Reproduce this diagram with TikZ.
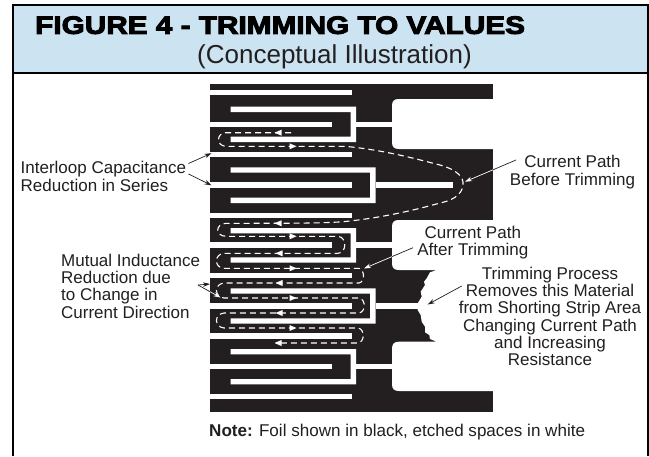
\documentclass[tikz,border=0pt]{standalone}
\usepackage{fontspec}
\setmainfont{Liberation Sans}
\newfontfamily\hdfont[FakeStretch=1.19,FakeBold=4]{Liberation Sans Bold}
\usetikzlibrary{arrows.meta}
\definecolor{foil}{HTML}{231F20}
\definecolor{hdblue}{HTML}{CCE3F2}
\tikzset{
  x=1pt,y=-1pt,
  slot/.style={fill=white},
  lbl/.style={font=\fontsize{17}{17.3}\selectfont,align=center,inner sep=0pt,text=foil},
  lblleft/.style={lbl,align=left,anchor=west},
  leader/.style={draw=foil,line width=0.7pt,-{Stealth[length=7pt,width=4.5pt]}},
  plainlead/.style={draw=foil,line width=0.7pt},
  wleader/.style={draw=white,line width=0.7pt,-{Stealth[length=7pt,width=4.5pt]}},
  cur/.style={draw=white,line width=1.1pt,dash pattern=on 6pt off 4pt},
  tri/.style={fill=white}
}
\newcommand{\trileft}[2]{\fill[tri] (#1-3.5,#2) -- (#1+3.5,#2-3) -- (#1+3.5,#2+3) -- cycle;}
\newcommand{\triright}[2]{\fill[tri] (#1+3.5,#2) -- (#1-3.5,#2-3) -- (#1-3.5,#2+3) -- cycle;}
\newcommand{\comb}[3]{\fill[slot] (230.7,#2) -- (#1,#2) -- (#1,#3+5.4) -- (230.7,#3+5.4) -- (230.7,#3) -- (#1-5.5,#3) -- (#1-5.5,#2+5.4) -- (230.7,#2+5.4) -- cycle;}
\newcommand{\slotbar}[3]{\fill[slot] (#1,#3) rectangle (#2,#3+5.4);}
\begin{document}
\begin{tikzpicture}
\useasboundingbox (0,0) rectangle (649,456);
\fill[white] (0,0) rectangle (649,456);
% header
\fill[hdblue] (13,5) rectangle (648,72.6);
\draw[line width=2pt,black] (13,456) -- (13,5) -- (648,5) -- (648,456);
\draw[line width=2pt,black] (13,72.6) -- (648,72.6);
\node[anchor=base west,inner sep=0pt,font=\hdfont\fontsize{25}{26}\selectfont] (title) at (35,33.8) {FIGURE 4 - TRIMMING TO VALUES};
\node[anchor=base,inner sep=0pt,font=\fontsize{26}{28}\selectfont,text=foil] (sub) at (334.5,63) {(Conceptual Illustration)};
% foil
\fill[foil] (210,84) rectangle (493,411.7);
% cut-outs
\fill[white] (494,99) -- (399,99) .. controls (394,99) and (392,101) .. (392,106) -- (392,142) .. controls (392,147) and (394,149) .. (399,149) -- (494,149) -- cycle;
\fill[white] (494,220) -- (399,220) .. controls (394,220) and (392,222) .. (392,227) -- (392,263) .. controls (392,268) and (394,270) .. (399,270)
  -- (436.7,270) -- (430,272.3) -- (426.7,278.3) -- (424,281.7) -- (425,285) -- (420.7,291.7) -- (421.7,296.7) -- (417.7,303.3) -- (417.7,310) -- (420.7,315) -- (421.7,321.7) -- (425,326.7) -- (425,332.3) -- (429.3,335) -- (430,339) -- (436.7,341.7)
  -- (399,341.7) .. controls (394,341.7) and (392,344) .. (392,349) -- (392,384) .. controls (392,389) and (394,391) .. (399,391) -- (494,391) -- cycle;
% slots
\slotbar{210}{351.7}{90}
\comb{356}{106.7}{136.7}
\slotbar{210}{331.7}{121.6}
\slotbar{356}{392.5}{121.6}
\slotbar{210}{351.7}{151.8}
\comb{375.7}{167.3}{197.7}
\slotbar{210}{351.7}{182.3}
\slotbar{375.7}{452.7}{182.3}
\slotbar{210}{351.7}{212.7}
\comb{356}{228}{257.3}
\slotbar{210}{331.7}{242.3}
\slotbar{356}{392.5}{242.3}
\slotbar{210}{351.7}{272.8}
\comb{375.7}{288.3}{318.3}
\slotbar{210}{351.7}{303.2}
\slotbar{375.7}{418.5}{303.2}
\slotbar{210}{351.7}{333.3}
\comb{356}{349}{379}
\slotbar{210}{331.7}{364}
\slotbar{356}{392.5}{364}
\slotbar{210}{351.7}{394}
% current path
\draw[cur] (291,132.7) -- (226,132.7) .. controls (216,133) and (216,146) .. (226,146.3) -- (345,146.3)
  .. controls (385,150) and (420,160) .. (440,165) .. controls (458,170) and (464,178) .. (463,185) .. controls (462,196) and (450,201) .. (440,203)
  .. controls (415,210) and (385,217) .. (350,221) .. controls (330,223.3) and (300,223.3) .. (226,223.3)
  .. controls (215,224) and (215,236) .. (226,236.3) -- (338,236.3) .. controls (347,237) and (347,253) .. (338,253.3) -- (224,253.3)
  .. controls (214,254) and (214,268) .. (224,268.3) -- (359,268.3) .. controls (365,270) and (365,282) .. (359,283) -- (224,283)
  .. controls (214,284) and (214,297) .. (224,298) -- (359,298) .. controls (366,299) and (366,312) .. (359,313) -- (224,313)
  .. controls (214,314) and (214,327) .. (224,328) -- (358,328) .. controls (365,329) and (365,342) .. (358,343) -- (276,343);
\trileft{278}{132.7}
\triright{293}{146.3}
\trileft{278}{223.3}
\triright{293}{236.3}
\trileft{279}{253.3}
\triright{293}{268.3}
\trileft{279}{283}
\triright{293}{298}
\trileft{279}{313}
\triright{293}{328}
\trileft{278}{343}
% labels
\node[lblleft] (inter) at (20.5,176.5) {Interloop Capacitance\\Reduction in Series};
\node[lblleft] (mutual) at (61,286) {Mutual Inductance\\Reduction due\\to Change in\\Current Direction};
\node[lbl] (before) at (572.5,172) {Current Path\\Before Trimming};
\node[lbl] (after) at (472.8,242.5) {Current Path\\After Trimming};
\node[lbl] (trim) at (550,316.5) {Trimming Process\\Removes this Material\\from Shorting Strip Area\\Changing Current Path\\and Increasing\\Resistance};
\node[anchor=base west,inner sep=0pt,font=\fontsize{17.05}{17}\selectfont,text=foil] (note) at (209,436) {\textbf{Note:} Foil shown in black, etched spaces in white};
% leaders
\coordinate (i1) at (188.5,163.5);
\coordinate (i2) at (188.5,174);
\coordinate (ia) at (211.5,153.2);
\coordinate (ib) at (211.5,185.3);
\coordinate (m1) at (198,285);
\coordinate (ma) at (210,284);
\coordinate (ms) at (210,291.7);
\coordinate (mb) at (220.5,297.5);
\coordinate (b1) at (516,160);
\coordinate (bs) at (493,169.8);
\coordinate (ba) at (465,181.7);
\coordinate (a1) at (413,247.7);
\coordinate (as) at (392,256.6);
\coordinate (aa) at (364,268.5);
\coordinate (t1) at (461.7,286);
\coordinate (ta) at (427.7,304.5);
\draw[leader] (i1) -- (ia);
\draw[leader] (i2) -- (ib);
\draw[leader] (m1) -- (ma);
\draw[plainlead] (m1) -- (ms);
\draw[wleader] (ms) -- (mb);
\draw[plainlead] (b1) -- (bs);
\draw[wleader] (bs) -- (ba);
\draw[plainlead] (a1) -- (as);
\draw[wleader] (as) -- (aa);
\draw[leader] (t1) -- (ta);
\end{tikzpicture}
\end{document}
